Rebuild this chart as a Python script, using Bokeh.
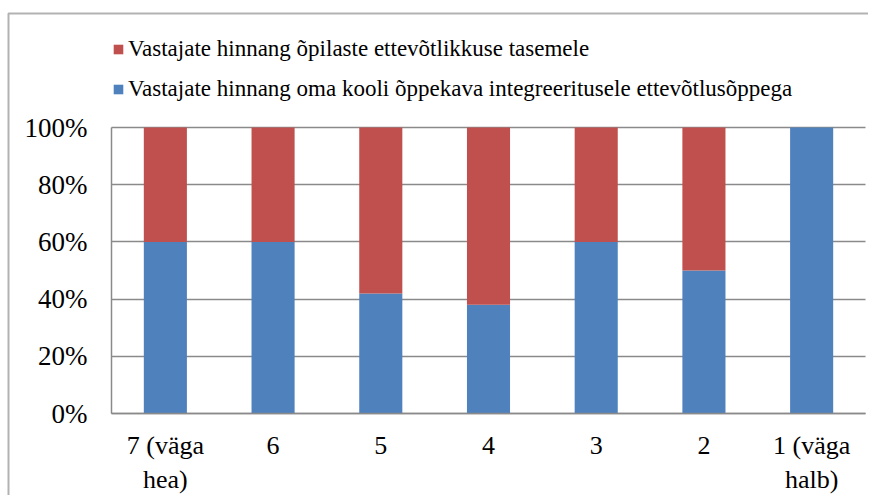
from bokeh.plotting import figure
from bokeh.models import (Legend, LegendItem, BoxAnnotation, FixedTicker,
                          PrintfTickFormatter, Range1d, ColumnDataSource)
from bokeh.embed import file_html
from bokeh.resources import INLINE

categories = ["7 (väga\nhea)", "6", "5", "4", "3", "2", "1 (väga\nhalb)"]
blue_vals = [60, 60, 42, 38, 60, 50, 100]
red_vals = [40, 40, 58, 62, 40, 50, 0]
red_name = "Vastajate hinnang õpilaste ettevõtlikkuse tasemele"
blue_name = "Vastajate hinnang oma kooli õppekava integreeritusele ettevõtlusõppega"
y_ticks = [0, 20, 40, 60, 80, 100]

BLUE = "#4F81BD"
RED = "#C0504D"
GRID = "#8a8a8a"
FONT = "Liberation Serif"

W, H = 868, 495
# plot area (pixels) : left, right, top(100%), bottom(0%)
PL, PR, PT, PB = 111, 865, 127, 413

x_pos = list(range(len(categories)))
source = ColumnDataSource(dict(x=x_pos, blue=blue_vals, red=red_vals))

cat_w = (PR - PL) / len(categories)
px_per_unit = (PB - PT) / 100.0
x0 = -0.5 - PL / cat_w
x1 = len(categories) - 0.5 + (W - PR) / cat_w
y0 = -(H - PB) / px_per_unit
y1 = 100 + PT / px_per_unit

p = figure(x_range=Range1d(x0, x1), y_range=Range1d(y0, y1), width=W, height=H,
           output_backend="svg", toolbar_location=None,
           min_border=0, min_border_left=0, min_border_right=0,
           min_border_top=0, min_border_bottom=0)

renderers = p.vbar_stack(["blue", "red"], x="x", width=0.4, color=[BLUE, RED],
                         line_color=None, source=source)
r_blue, r_red = renderers

legend = Legend(items=[LegendItem(label=red_name, renderers=[r_red]),
                       LegendItem(label=blue_name, renderers=[r_blue])],
                location=(112, 393), orientation="vertical",
                glyph_width=12, glyph_height=12, label_height=22,
                spacing=14, padding=0, margin=0, label_standoff=4,
                border_line_color=None, background_fill_alpha=0,
                label_text_font=FONT, label_text_font_size="23px",
                label_text_color="#000000")
p.add_layout(legend, "center")

# outer chart border (left and top edges visible)
p.add_layout(BoxAnnotation(left=8, right=3000, top=13, bottom=3000,
                           left_units="canvas", right_units="canvas",
                           top_units="canvas", bottom_units="canvas",
                           fill_alpha=0, line_color="#000000", line_width=2))

p.outline_line_color = None
p.xgrid.grid_line_color = None
p.ygrid.ticker = FixedTicker(ticks=y_ticks)
p.ygrid.grid_line_color = GRID
p.ygrid.grid_line_width = 1.5
p.ygrid.cross_bounds = (-0.5, len(categories) - 0.5)

p.yaxis.ticker = FixedTicker(ticks=y_ticks)
p.yaxis.formatter = PrintfTickFormatter(format="%d%%")
p.yaxis.fixed_location = -0.5
p.yaxis.bounds = (0, 100)

p.xaxis.ticker = FixedTicker(ticks=x_pos)
p.xaxis.major_label_overrides = {i: c for i, c in zip(x_pos, categories)}
p.xaxis.fixed_location = 0
p.xaxis.bounds = (-0.5, len(categories) - 0.5)

for ax in (p.xaxis, p.yaxis):
    ax.axis_line_color = GRID
    ax.axis_line_width = 1.5
    ax.major_tick_line_color = None
    ax.minor_tick_line_color = None
    ax.major_label_text_font = FONT
    ax.major_label_text_color = "#000000"
p.yaxis.major_label_text_font_size = "27px"
p.xaxis.major_label_text_font_size = "26px"
p.yaxis.major_label_standoff = 18
p.xaxis.major_label_standoff = 11

open("out.html", "w").write(file_html(p, INLINE))
